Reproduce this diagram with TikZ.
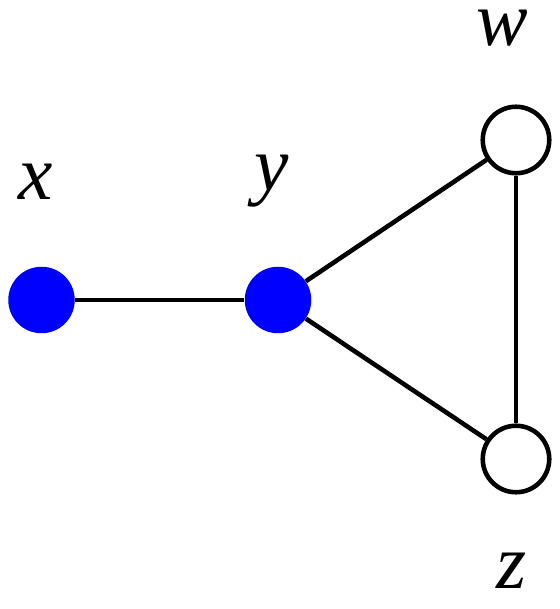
\documentclass[tikz,border=0pt]{standalone}
\usepackage{fontspec}
\setmainfont{Liberation Serif}
\usepackage{tikz}
\usetikzlibrary{positioning}
\definecolor{vtxblue}{RGB}{0,0,255}

\begin{document}
\begin{tikzpicture}[
  vtx/.style={circle, minimum size=1.33cm, inner sep=0pt},
  filled/.style={vtx, fill=vtxblue},
  empty/.style={vtx, draw=black, line width=2.6pt, fill=white},
  edge/.style={line width=2.6pt},
  lbl/.style={inner sep=0pt, font=\fontsize{44}{50}\selectfont\itshape}
]
\useasboundingbox (0,0) rectangle (11.2,12.18);
% vertices
\node[filled] (x) at (0.83,6.18) {};
\node[filled] (y) at (5.56,6.18) {};
\node[empty] (w) at (10.32,9.38) {};
\node[empty] (z) at (10.32,3.0) {};
% labels
\node[lbl] (xl) at (0.72,8.54) {x};
\node[lbl] (yl) at (5.44,8.56) {y};
\node[lbl] (wl) at (10.04,11.62) {w};
\node[lbl] (zl) at (10.24,0.76) {z};
% edges
\draw[edge] (x) -- (y);
\draw[edge] (y) -- (w);
\draw[edge] (y) -- (z);
\draw[edge] (w) -- (z);
\end{tikzpicture}
\end{document}
